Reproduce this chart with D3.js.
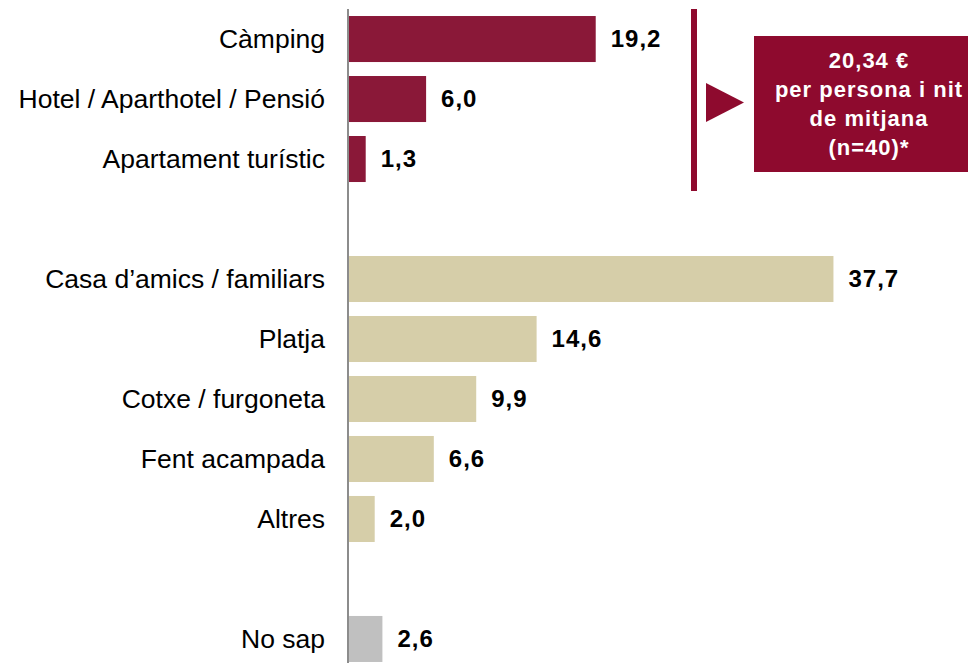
<!DOCTYPE html>
<html>
<head>
<meta charset="utf-8">
<script src="https://cdn.jsdelivr.net/npm/d3@7"></script>
<style>
	body { margin: 0; background: #fff; }
	svg { display: block; font-family: Arial, "Liberation Sans", sans-serif; }
</style>
</head>
<body>
<div id="chart"></div>
<script>
// DATA
const categories = [
	"Càmping",
	"Hotel / Aparthotel / Pensió",
	"Apartament turístic",
	"",
	"Casa d’amics / familiars",
	"Platja",
	"Cotxe / furgoneta",
	"Fent acampada",
	"Altres",
	" ",
	"No sap",
];
const values = [19.2, 6.0, 1.3, null, 37.7, 14.6, 9.9, 6.6, 2.0, null, 2.6];
const groups = ["paid", "paid", "paid", null, "free", "free", "free", "free", "free", null, "unknown"];
const noteLines = ["20,34 €", "per persona i nit", "de mitjana", "(n=40)*"];

//Dimension
const width = 968,
	height = 663,
	axisX = 349;

const svg = d3.select("#chart").append("svg").attr("width", width).attr("height", height);

const rows = categories.map((c, i) => ({ label: c, value: values[i], group: groups[i], key: i }));

//SCALES
const x = d3.scaleLinear().domain([0, 1]).range([axisX, axisX + 12.85]);
const y = d3
	.scaleBand()
	.domain(rows.map(d => d.key))
	.range([9, 9 + 60 * rows.length])
	.paddingInner(0.233)
	.paddingOuter(0.117);

const color = d3
	.scaleOrdinal()
	.domain(["paid", "free", "unknown"])
	.range(["#8A1838", "#D6CEA9", "#C0C0C0"]);

const data = rows.filter(d => d.value != null);

//BARS
svg
	.selectAll("rect.bar")
	.data(data)
	.enter()
	.append("rect")
	.attr("class", "bar")
	.attr("x", x(0))
	.attr("y", d => y(d.key))
	.attr("width", d => x(d.value) - x(0))
	.attr("height", y.bandwidth())
	.attr("fill", d => color(d.group));

//AXIS LINE
svg
	.append("line")
	.attr("x1", axisX - 1)
	.attr("x2", axisX - 1)
	.attr("y1", 9)
	.attr("y2", height)
	.attr("stroke", "#8c8c8c")
	.attr("stroke-width", 2);

//CATEGORY LABELS
svg
	.selectAll("text.cat")
	.data(data)
	.enter()
	.append("text")
	.attr("class", "cat")
	.attr("x", axisX - 24)
	.attr("y", d => y(d.key) + y.bandwidth() / 2)
	.attr("dy", "0.35em")
	.attr("text-anchor", "end")
	.style("font-size", "26.5px")
	.style("fill", "#000")
	.text(d => d.label);

//VALUE LABELS
svg
	.selectAll("text.val")
	.data(data)
	.enter()
	.append("text")
	.attr("class", "val")
	.attr("x", d => x(d.value) + 15)
	.attr("y", d => y(d.key) + y.bandwidth() / 2)
	.attr("dy", "0.35em")
	.style("font-size", "24px")
	.style("letter-spacing", "1px")
	.style("font-weight", "bold")
	.style("fill", "#000")
	.text(d => d3.format(".1f")(d.value).replace(".", ","));

//CALLOUT
svg
	.append("rect")
	.attr("x", 691)
	.attr("y", 9)
	.attr("width", 6)
	.attr("height", 182)
	.attr("fill", "#8E0A2E");

svg
	.append("path")
	.attr("d", "M706,83 L744,102.5 L706,122 Z")
	.attr("fill", "#8E0A2E");

svg
	.append("rect")
	.attr("x", 754)
	.attr("y", 36)
	.attr("width", 220)
	.attr("height", 136)
	.attr("fill", "#8E0A2E");

svg
	.append("g")
	.selectAll("text")
	.data(noteLines)
	.enter()
	.append("text")
	.attr("x", 869)
	.attr("y", (d, i) => 68 + i * 29)
	.attr("text-anchor", "middle")
	.style("font-size", "22px")
	.style("letter-spacing", "1px")
	.style("font-weight", "bold")
	.style("fill", "#fff")
	.text(d => d);
</script>
</body>
</html>
